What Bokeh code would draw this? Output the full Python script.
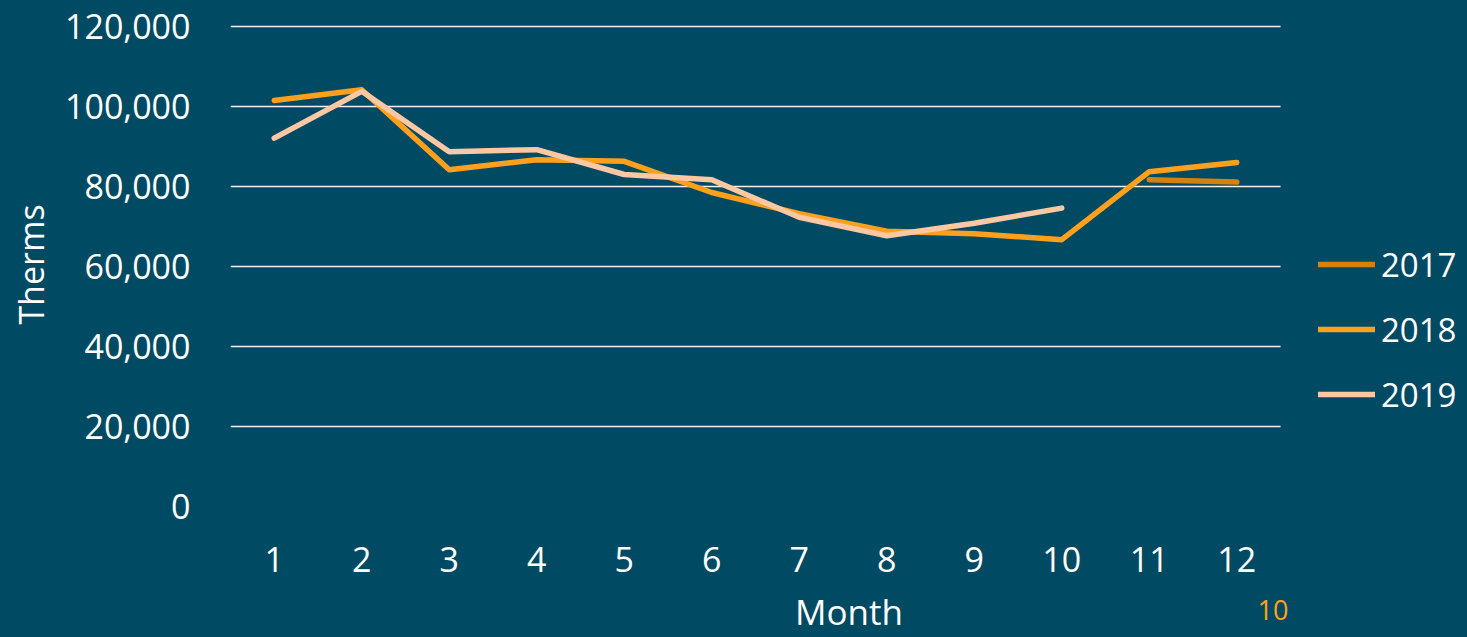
import math
from bokeh.plotting import figure
from bokeh.models import (Range1d, FixedTicker, NumeralTickFormatter, Legend,
                          LegendItem, ColumnDataSource, Title)
from bokeh.embed import file_html
from bokeh.resources import INLINE

nan = float("nan")
months = [1, 2, 3, 4, 5, 6, 7, 8, 9, 10, 11, 12]
month_labels = [str(m) for m in months]
therms_2017 = [nan, nan, nan, nan, nan, nan, nan, nan, nan, nan, 81700, 81100]
therms_2018 = [101500, 104200, 84200, 86700, 86300, 78500, 73200, 68800, 68200, 66700, 83700, 86000]
therms_2019 = [92100, 103800, 88700, 89200, 83000, 81700, 72300, 67700, 70800, 74600, nan, nan]
series_names = ["2017", "2018", "2019"]
y_ticks = [0, 20000, 40000, 60000, 80000, 100000, 120000]
page_number = "10"

BG = "#004B63"
colors = ["#D4820F", "#FFA01C", "#FFC7A2"]
PAGE_COLOR = "#FFA01C"
FONT = "Open Sans"

# frame spans to the right edge so the legend (drawn in the frame) is not clipped;
# month slots are 1050/12 px wide, the extra room on the right holds the legend
x_end = 0.5 + 12 * (1467 - 230) / 1050.0

p = figure(width=1467, height=637, output_backend="svg", toolbar_location=None,
           x_range=Range1d(0.5, x_end), y_range=Range1d(0, 121000),
           background_fill_color=BG, border_fill_color=BG,
           min_border_left=230, min_border_right=0,
           min_border_top=22, min_border_bottom=131)
p.outline_line_color = None

src = ColumnDataSource(dict(x=months, a=therms_2017, b=therms_2018, c=therms_2019))
renderers = []
for col, color in zip(["a", "b", "c"], colors):
    r = p.line("x", col, source=src, line_color=color, line_width=5.5,
               line_cap="round", line_join="round")
    renderers.append(r)

# axes
p.xaxis.ticker = FixedTicker(ticks=months)
p.xaxis.bounds = (0.5, 12.5)
p.xaxis.major_label_overrides = {m: l for m, l in zip(months, month_labels)}
p.yaxis.ticker = FixedTicker(ticks=y_ticks)
p.yaxis.formatter = NumeralTickFormatter(format="0,0")
for ax in (p.xaxis[0], p.yaxis[0]):
    ax.axis_line_color = None
    ax.major_tick_line_color = None
    ax.minor_tick_line_color = None
    ax.major_tick_out = 0
    ax.major_tick_in = 0
    ax.major_label_text_color = "white"
    ax.major_label_text_font = FONT
    ax.major_label_text_font_size = "34px"
    ax.axis_label_text_color = "white"
    ax.axis_label_text_font = FONT
    ax.axis_label_text_font_style = "normal"
p.yaxis.axis_label_text_font_size = "34px"
p.xaxis.axis_label_text_font_size = "35px"
p.yaxis.major_label_standoff = 40
p.xaxis.major_label_standoff = 40
p.yaxis.axis_label = "Therms"
p.xaxis.axis_label = "Month"
p.yaxis.axis_label_standoff = 8
p.xaxis.axis_label_standoff = 13

p.xgrid.grid_line_color = None
p.ygrid.grid_line_color = "#F2F2F2"
p.ygrid.grid_line_width = 1.6
p.ygrid.cross_bounds = (0.5, 12.5)

legend = Legend(items=[LegendItem(label=n, renderers=[r]) for n, r in zip(series_names, renderers)],
                location=(1088, 89), padding=0, margin=0,
                border_line_color=None, background_fill_alpha=0,
                glyph_width=57, glyph_height=46, label_height=46, spacing=19,
                label_standoff=6, label_text_color="white",
                label_text_font=FONT, label_text_font_size="33px")
p.add_layout(legend, "center")

# page number, tucked into the bottom-right corner
p.add_layout(Title(text=page_number, align="right", vertical_align="top",
                   standoff=-76, offset=179, text_color=PAGE_COLOR,
                   text_font=FONT, text_font_size="27px",
                   text_font_style="normal"), "below")

html = file_html(p, INLINE)
html = html.replace("</head>", "<style>html,body{margin:0 !important;padding:0;background:%s;overflow:hidden}</style></head>" % BG, 1)
open("out.html", "w").write(html)
